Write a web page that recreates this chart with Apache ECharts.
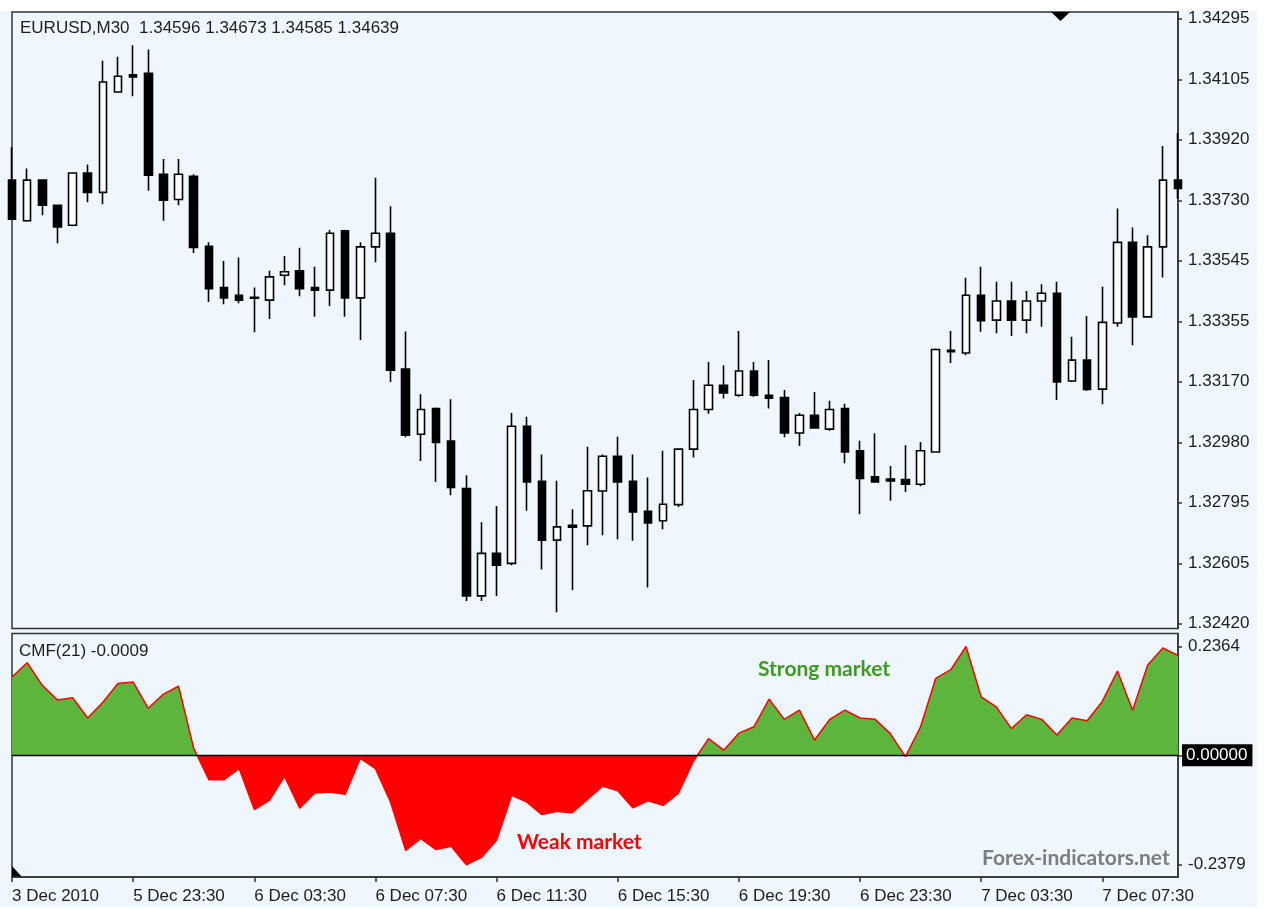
<!DOCTYPE html>
<html>
<head>
<meta charset="utf-8">
<script src="https://cdn.jsdelivr.net/npm/echarts@6/dist/echarts.min.js"></script>
<style>
html, body {margin: 0; padding: 0; background: #fff;}
#bg {position: absolute; left: 0; top: 11px; width: 1257px; height: 896px; background: #eef6fe;}
#main {position: absolute; left: 0; top: 0; width: 1264px; height: 909px;}
</style>
</head>
<body>
<div id="bg"></div>
<div id="main"></div>
<script>
// EURUSD M30 candles
const opens = [
	1.33794, 1.33668, 1.33794, 1.33716, 1.33654, 1.33816, 1.33756, 1.34067, 1.34120, 1.34125,
	1.33812, 1.33734, 1.33806, 1.33589, 1.33461, 1.33437, 1.33431, 1.33422, 1.33499, 1.33513,
	1.33461, 1.33453, 1.33637, 1.33429, 1.33587, 1.33629, 1.33208, 1.33006, 1.33086, 1.32985,
	1.32838, 1.32505, 1.32637, 1.32606, 1.33031, 1.32860, 1.32678, 1.32724, 1.32722, 1.32830,
	1.32938, 1.32860, 1.32767, 1.32738, 1.32788, 1.32960, 1.33083, 1.33158, 1.33127, 1.33202,
	1.33127, 1.33120, 1.33010, 1.33065, 1.33022, 1.33086, 1.32955, 1.32874, 1.32867, 1.32866,
	1.32851, 1.32951, 1.33266, 1.33258, 1.33437, 1.33360, 1.33419, 1.33360, 1.33419, 1.33443,
	1.33171, 1.33236, 1.33146, 1.33351, 1.33601, 1.33370, 1.33587, 1.33794
];
const highs = [
	1.33896, 1.33830, 1.33796, 1.33718, 1.33818, 1.33842, 1.34164, 1.34176, 1.34212, 1.34199,
	1.33859, 1.33859, 1.33812, 1.33601, 1.33543, 1.33554, 1.33461, 1.33513, 1.33559, 1.33584,
	1.33525, 1.33639, 1.33640, 1.33601, 1.33801, 1.33713, 1.33325, 1.33130, 1.33089, 1.33115,
	1.32879, 1.32733, 1.32784, 1.33072, 1.33060, 1.32943, 1.32862, 1.32774, 1.32967, 1.32943,
	1.32998, 1.32943, 1.32872, 1.32955, 1.32962, 1.33174, 1.33230, 1.33220, 1.33326, 1.33230,
	1.33236, 1.33143, 1.33072, 1.33137, 1.33110, 1.33101, 1.32986, 1.33009, 1.32908, 1.32972,
	1.32982, 1.33272, 1.33326, 1.33491, 1.33525, 1.33479, 1.33479, 1.33450, 1.33471, 1.33479,
	1.33308, 1.33373, 1.33463, 1.33706, 1.33647, 1.33623, 1.33900, 1.33940
];
const lows = [
	1.33670, 1.33665, 1.33685, 1.33598, 1.33651, 1.33725, 1.33719, 1.34065, 1.34054, 1.33761,
	1.33668, 1.33716, 1.33568, 1.33416, 1.33409, 1.33412, 1.33322, 1.33363, 1.33468, 1.33434,
	1.33370, 1.33404, 1.33370, 1.33298, 1.33539, 1.33168, 1.32997, 1.32923, 1.32858, 1.32817,
	1.32489, 1.32489, 1.32505, 1.32600, 1.32769, 1.32587, 1.32454, 1.32523, 1.32662, 1.32693,
	1.32681, 1.32676, 1.32531, 1.32712, 1.32781, 1.32934, 1.33070, 1.33117, 1.33122, 1.33122,
	1.33086, 1.32997, 1.32970, 1.33024, 1.33017, 1.32916, 1.32758, 1.32856, 1.32800, 1.32827,
	1.32845, 1.32949, 1.33227, 1.33251, 1.33324, 1.33319, 1.33311, 1.33319, 1.33339, 1.33112,
	1.33168, 1.33141, 1.33099, 1.33339, 1.33282, 1.33368, 1.33492, 1.33737
];
const closes = [
	1.33673, 1.33794, 1.33716, 1.33649, 1.33816, 1.33756, 1.34098, 1.34116, 1.34114, 1.33809,
	1.33732, 1.33812, 1.33585, 1.33457, 1.33429, 1.33422, 1.33428, 1.33494, 1.33510, 1.33457,
	1.33453, 1.33629, 1.33429, 1.33587, 1.33629, 1.33205, 1.33003, 1.33083, 1.32981, 1.32841,
	1.32505, 1.32637, 1.32600, 1.33031, 1.32858, 1.32678, 1.32719, 1.32718, 1.32831, 1.32938,
	1.32858, 1.32765, 1.32731, 1.32789, 1.32960, 1.33083, 1.33158, 1.33134, 1.33202, 1.33127,
	1.33118, 1.33010, 1.33065, 1.33026, 1.33083, 1.32951, 1.32869, 1.32858, 1.32861, 1.32851,
	1.32955, 1.33269, 1.33262, 1.33437, 1.33358, 1.33419, 1.33360, 1.33419, 1.33443, 1.33168,
	1.33236, 1.33145, 1.33353, 1.33601, 1.33370, 1.33587, 1.33794, 1.33768
];

// Chaikin Money Flow (21)
const cmf = [
	0.170, 0.201, 0.152, 0.120, 0.125, 0.081, 0.115, 0.156, 0.159, 0.102,
	0.133, 0.150, 0.015, -0.053, -0.053, -0.029, -0.118, -0.098, -0.046, -0.115,
	-0.082, -0.080, -0.085, -0.007, -0.029, -0.102, -0.207, -0.181, -0.205, -0.198,
	-0.2379, -0.222, -0.185, -0.087, -0.102, -0.129, -0.122, -0.125, -0.096, -0.067,
	-0.077, -0.114, -0.099, -0.109, -0.083, -0.013, 0.036, 0.011, 0.048, 0.062,
	0.122, 0.078, 0.098, 0.033, 0.078, 0.098, 0.081, 0.078, 0.047, -0.003,
	0.062, 0.167, 0.186, 0.2364, 0.127, 0.105, 0.058, 0.088, 0.078, 0.044,
	0.081, 0.075, 0.117, 0.183, 0.098, 0.196, 0.233, 0.217
];

const xTickLabels = ['3 Dec 2010', '5 Dec 23:30', '6 Dec 03:30', '6 Dec 07:30', '6 Dec 11:30',
	'6 Dec 15:30', '6 Dec 19:30', '6 Dec 23:30', '7 Dec 03:30', '7 Dec 07:30'];
const priceTicks = [1.32420, 1.32605, 1.32795, 1.32980, 1.33170, 1.33355, 1.33545, 1.33730, 1.33920, 1.34105, 1.34295];
const cmfTicks = [-0.2379, 0, 0.2364];

// bar times (friday close, then sunday open)
const times = opens.map((_, i) => {
	const base = i < 4 ? Date.UTC(2010, 11, 3, 21, 30) + i * 1800000
		: Date.UTC(2010, 11, 5, 21, 30) + (i - 4) * 1800000;
	const d = new Date(base);
	return d.getUTCDate() + ' Dec ' + String(d.getUTCHours()).padStart(2, '0') + ':' + String(d.getUTCMinutes()).padStart(2, '0');
});

const candles = opens.map((o, i) => [o, closes[i], lows[i], highs[i]]);

const FONT = 'Liberation Sans';
const TXT = '#1e1e1e';
const FRAME = '#333';
const LEFT = 12, PLOT_W = 1166;

const chart = echarts.init(document.getElementById('main'));
chart.setOption({
	animation: false,
	grid: [
		{left: LEFT, top: 12, width: PLOT_W, height: 616.5, show: true, borderColor: FRAME, borderWidth: 1.5},
		{left: LEFT, top: 633.5, width: PLOT_W, height: 243.5, show: true, borderColor: FRAME, borderWidth: 1.5}
	],
	xAxis: [
		{
			type: 'category', gridIndex: 0, data: times, boundaryGap: false,
			axisLine: {show: false, onZero: false}, axisTick: {show: false}, axisLabel: {show: false}, splitLine: {show: false}
		},
		{
			type: 'category', gridIndex: 1, data: times, boundaryGap: false, position: 'bottom',
			axisLine: {show: true, onZero: false, lineStyle: {color: FRAME, width: 1.5}},
			axisTick: {show: true, interval: 7, length: 5, lineStyle: {color: FRAME, width: 1.5}},
			axisLabel: {
				interval: 7, align: 'left', margin: 11, color: TXT, fontFamily: FONT, fontSize: 17,
				formatter: (v, i) => xTickLabels[i / 8] || ''
			},
			splitLine: {show: false}
		}
	],
	yAxis: [
		{
			type: 'value', gridIndex: 0, position: 'right', min: 1.32404, max: 1.34315,
			splitLine: {show: false},
			axisLine: {show: true, lineStyle: {color: FRAME, width: 1.5}},
			axisTick: {show: true, length: 4, customValues: priceTicks, lineStyle: {color: FRAME, width: 1.5}},
			axisLabel: {
				customValues: priceTicks, margin: 10, color: TXT, fontFamily: FONT, fontSize: 17,
				formatter: v => v.toFixed(5)
			}
		},
		{
			type: 'value', gridIndex: 1, position: 'right', min: -0.2646, max: 0.2646,
			splitLine: {show: false},
			axisLine: {show: true, lineStyle: {color: FRAME, width: 1.5}},
			axisTick: {show: true, length: 4, customValues: cmfTicks, lineStyle: {color: FRAME, width: 1.5}},
			axisLabel: {
				customValues: cmfTicks, margin: 4, color: TXT, fontFamily: FONT, fontSize: 17,
				formatter: v => v === 0 ? '{z|0.00000}' : '{n|' + v.toFixed(4) + '}',
				rich: {
					n: {padding: [0, 0, 0, 6], color: TXT, fontFamily: FONT, fontSize: 17},
					z: {backgroundColor: '#000', color: '#fff', padding: [3, 5, 2, 4], fontFamily: FONT, fontSize: 17}
				}
			}
		}
	],
	visualMap: {
		show: false, seriesIndex: 1, dimension: 1,
		pieces: [{gte: -1, lt: 0, color: '#ff0000'}, {gte: 0, lte: 1, color: '#5db53e'}]
	},
	series: [
		{
			type: 'candlestick', xAxisIndex: 0, yAxisIndex: 0, data: candles,
			barWidth: 8, clip: true,
			itemStyle: {color: '#fff', color0: '#000', borderColor: '#000', borderColor0: '#000', borderWidth: 1.6}
		},
		{
			type: 'line', xAxisIndex: 1, yAxisIndex: 1, data: cmf,
			showSymbol: false, clip: true,
			lineStyle: {color: '#ff0000', width: 1.5},
			areaStyle: {opacity: 1},
			markLine: {
				silent: true, symbol: 'none', label: {show: false},
				lineStyle: {color: '#000', width: 1.3, type: 'solid'},
				data: [{yAxis: 0}]
			}
		}
	],
	graphic: [
		{type: 'text', left: 20, top: 20, style: {text: 'EURUSD,M30  1.34596 1.34673 1.34585 1.34639', font: '17px "Liberation Sans"', fill: TXT}},
		{type: 'text', left: 19, top: 643, style: {text: 'CMF(21) -0.0009', font: '17px "Liberation Sans"', fill: TXT}},
		{type: 'text', left: 758, top: 659, style: {text: 'Strong market', font: 'bold 21px Lato', fill: '#3c9c1e'}},
		{type: 'text', left: 517, top: 832, style: {text: 'Weak market', font: 'bold 21px Lato', fill: '#ff0000'}},
		{type: 'text', left: 982, top: 848, style: {text: 'Forex-indicators.net', font: 'bold 21px Lato', fill: '#7d7d7d'}},
		{type: 'polygon', shape: {points: [[1051, 12], [1070, 12], [1060.5, 21]]}, style: {fill: '#000'}},
		{type: 'polygon', shape: {points: [[12, 866], [12, 877], [22, 877]]}, style: {fill: '#000'}}
	]
});
</script>
</body>
</html>
